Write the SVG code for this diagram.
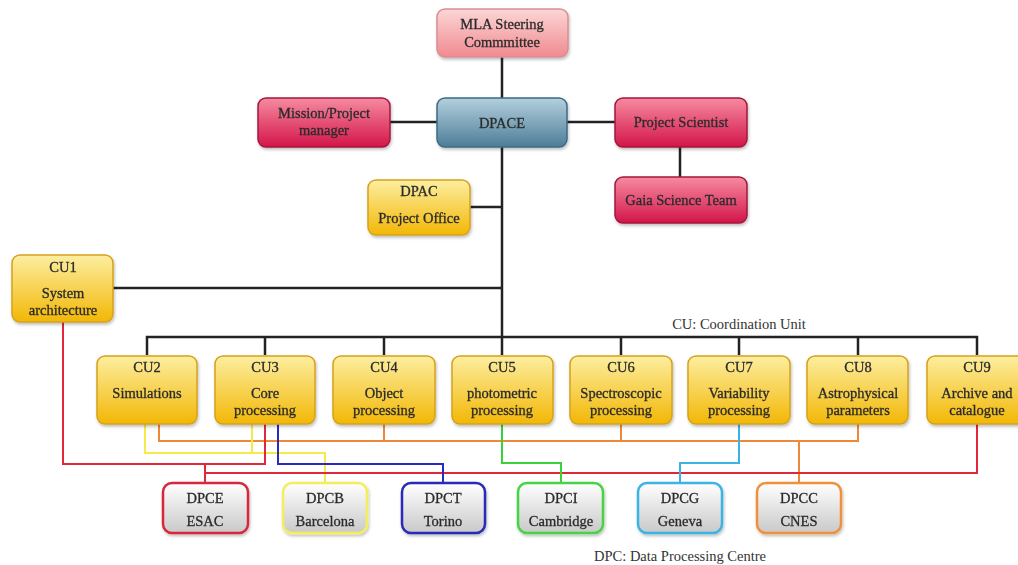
<svg xmlns="http://www.w3.org/2000/svg" width="1018" height="565" viewBox="0 0 1018 565">
<defs>
<linearGradient id="gPink" x1="0" y1="0" x2="0" y2="1"><stop offset="0" stop-color="#fcd6d6"/><stop offset="1" stop-color="#f08a90"/></linearGradient>
<linearGradient id="gBlue" x1="0" y1="0" x2="0" y2="1"><stop offset="0" stop-color="#b3d0de"/><stop offset="1" stop-color="#4e7d98"/></linearGradient>
<linearGradient id="gRed" x1="0" y1="0" x2="0" y2="1"><stop offset="0" stop-color="#f68aa0"/><stop offset="1" stop-color="#d3154a"/></linearGradient>
<linearGradient id="gYel" x1="0" y1="0" x2="0" y2="1"><stop offset="0" stop-color="#fdeea0"/><stop offset="1" stop-color="#f2b705"/></linearGradient>
<linearGradient id="gGray" x1="0" y1="0" x2="0" y2="1"><stop offset="0" stop-color="#ffffff"/><stop offset="1" stop-color="#c9c9c9"/></linearGradient>
<filter id="sh" x="-10%" y="-10%" width="130%" height="140%"><feDropShadow dx="1" dy="2" stdDeviation="1.5" flood-color="#000" flood-opacity="0.25"/></filter>
</defs>
<style>
text{font-family:"Liberation Serif","Times New Roman",serif;font-size:14.5px;fill:#2b2b2b;stroke:#2b2b2b;stroke-width:0.3;text-anchor:middle}
.pink{fill:url(#gPink);stroke:#d88e92;stroke-width:1.5}
.blue{fill:url(#gBlue);stroke:#3d6b84;stroke-width:1.5}
.red{fill:url(#gRed);stroke:#a3173d;stroke-width:1.5}
.yel{fill:url(#gYel);stroke:#d5a21c;stroke-width:1.5}
.dpc{fill:url(#gGray);stroke-width:2.5}
.box{filter:url(#sh)}
.k{stroke:#222;stroke-width:2.5;fill:none}
.c{stroke-width:2;fill:none}
.note{fill:#333;stroke:none}
</style>
<rect width="1018" height="565" fill="#fff"/>
<g id="connectors">
<path class="k" d="M502,57V355M390,122H437M567,122H615M680,147V177M470,207H502M113,288H502M147,355V337H977V355M265,337V355M384,337V355M621,337V355M739,337V355M858,337V355"/>
<path class="c" stroke="#f0883a" d="M159,424V441H858V424M384,424V441M621,424V441M799,441V483"/>
<path class="c" stroke="#f4ea4a" d="M145,424V453H325V483M252,424V453"/>
<path class="c" stroke="#e0283a" d="M63,322V464H265V424M205,464V483M205,473H977V424"/>
<path class="c" stroke="#2a2ac0" d="M278,424V464H443V483"/>
<path class="c" stroke="#3ad23a" d="M502,424V463H561V483"/>
<path class="c" stroke="#3ab4e4" d="M739,424V463H680V483"/>
</g>
<g id="mla" class="box"><rect class="pink" x="437" y="9" width="131" height="48" rx="8"/><text x="502" y="29">MLA Steering</text><text x="502" y="47">Commmittee</text></g>
<g id="dpace" class="box"><rect class="blue" x="437" y="98" width="130" height="49" rx="8"/><text x="502" y="128">DPACE</text></g>
<g id="mission" class="box"><rect class="red" x="258" y="98" width="132" height="49" rx="8"/><text x="324" y="118">Mission/Project</text><text x="324" y="135">manager</text></g>
<g id="scientist" class="box"><rect class="red" x="615" y="98" width="132" height="49" rx="8"/><text x="681" y="127">Project Scientist</text></g>
<g id="gaia" class="box"><rect class="red" x="615" y="177" width="132" height="46" rx="8"/><text x="681" y="205">Gaia Science Team</text></g>
<g id="dpac" class="box"><rect class="yel" x="368" y="180" width="102" height="55" rx="8"/><text x="419" y="196">DPAC</text><text x="419" y="223">Project Office</text></g>
<g id="cu1" class="box"><rect class="yel" x="12" y="255" width="101" height="67" rx="8"/><text x="63" y="272">CU1</text><text x="63" y="298">System</text><text x="63" y="315">architecture</text></g>
<text class="note" x="739" y="329">CU: Coordination Unit</text>
<g id="cu2" class="box"><rect class="yel" x="97" y="356" width="100" height="68" rx="8"/><text x="147" y="372">CU2</text><text x="147" y="398">Simulations</text></g>
<g id="cu3" class="box"><rect class="yel" x="215" y="356" width="100" height="68" rx="8"/><text x="265" y="372">CU3</text><text x="265" y="398">Core</text><text x="265" y="415">processing</text></g>
<g id="cu4" class="box"><rect class="yel" x="333" y="356" width="102" height="68" rx="8"/><text x="384" y="372">CU4</text><text x="384" y="398">Object</text><text x="384" y="415">processing</text></g>
<g id="cu5" class="box"><rect class="yel" x="452" y="356" width="101" height="68" rx="8"/><text x="502" y="372">CU5</text><text x="502" y="398">photometric</text><text x="502" y="415">processing</text></g>
<g id="cu6" class="box"><rect class="yel" x="570" y="356" width="102" height="68" rx="8"/><text x="621" y="372">CU6</text><text x="621" y="398">Spectroscopic</text><text x="621" y="415">processing</text></g>
<g id="cu7" class="box"><rect class="yel" x="688" y="356" width="102" height="68" rx="8"/><text x="739" y="372">CU7</text><text x="739" y="398">Variability</text><text x="739" y="415">processing</text></g>
<g id="cu8" class="box"><rect class="yel" x="807" y="356" width="101" height="68" rx="8"/><text x="858" y="372">CU8</text><text x="858" y="398">Astrophysical</text><text x="858" y="415">parameters</text></g>
<g id="cu9" class="box"><rect class="yel" x="927" y="356" width="100" height="68" rx="8"/><text x="977" y="372">CU9</text><text x="977" y="398">Archive and</text><text x="977" y="415">catalogue</text></g>
<g id="dpce" class="box"><rect class="dpc" stroke="#d8283c" x="163" y="483" width="85" height="50" rx="9"/><text x="205" y="503">DPCE</text><text x="205" y="526">ESAC</text></g>
<g id="dpcb" class="box"><rect class="dpc" stroke="#f2ee5c" x="283" y="483" width="84" height="50" rx="9"/><text x="325" y="503">DPCB</text><text x="325" y="526">Barcelona</text></g>
<g id="dpct" class="box"><rect class="dpc" stroke="#2a2ab8" x="402" y="483" width="83" height="50" rx="9"/><text x="443" y="503">DPCT</text><text x="443" y="526">Torino</text></g>
<g id="dpci" class="box"><rect class="dpc" stroke="#44d444" x="518" y="483" width="85" height="50" rx="9"/><text x="561" y="503">DPCI</text><text x="561" y="526">Cambridge</text></g>
<g id="dpcg" class="box"><rect class="dpc" stroke="#3ab4e4" x="638" y="483" width="84" height="50" rx="9"/><text x="680" y="503">DPCG</text><text x="680" y="526">Geneva</text></g>
<g id="dpcc" class="box"><rect class="dpc" stroke="#f0903a" x="757" y="483" width="84" height="50" rx="9"/><text x="799" y="503">DPCC</text><text x="799" y="526">CNES</text></g>
<text class="note" x="680" y="561">DPC: Data Processing Centre</text>
</svg>
